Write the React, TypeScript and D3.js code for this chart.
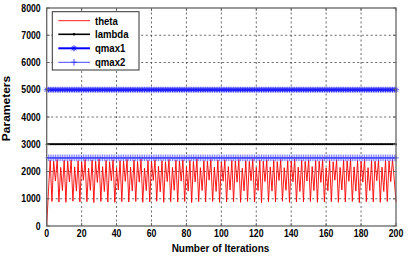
import React, { useEffect, useRef } from "react";
import * as d3 from "d3";

// theta per iteration (0..200)
const thetaValues = [
  0, 1260, 2420, 900, 2380, 1650, 2440, 880, 2150, 1300,
  2410, 870, 2390, 1620, 2430, 910, 2170, 1280, 2400, 880,
  2350, 1680, 2440, 890, 2120, 1310, 2420, 860, 2380, 1600,
  2450, 900, 2180, 1270, 2410, 880, 2360, 1660, 2430, 870,
  2140, 1320, 2400, 890, 2390, 1640, 2440, 880, 2160, 1290,
  2420, 900, 2370, 1610, 2450, 870, 2130, 1300, 2410, 880,
  2380, 1670, 2430, 910, 2190, 1260, 2400, 870, 2360, 1630,
  2440, 890, 2150, 1310, 2420, 880, 2390, 1650, 2430, 900,
  2170, 1280, 2410, 860, 2370, 1620, 2450, 890, 2140, 1300,
  2400, 880, 2380, 1680, 2440, 900, 2160, 1270, 2420, 870,
  2350, 1640, 2430, 880, 2180, 1320, 2410, 890, 2390, 1610,
  2440, 870, 2120, 1290, 2400, 900, 2370, 1660, 2450, 880,
  2150, 1300, 2420, 860, 2380, 1630, 2430, 890, 2170, 1280,
  2410, 880, 2360, 1670, 2440, 910, 2140, 1310, 2400, 870,
  2390, 1620, 2450, 880, 2160, 1270, 2420, 890, 2370, 1650,
  2430, 900, 2180, 1300, 2410, 870, 2380, 1600, 2440, 880,
  2130, 1290, 2400, 890, 2360, 1680, 2430, 870, 2150, 1320,
  2420, 880, 2390, 1640, 2450, 900, 2170, 1280, 2410, 860,
  2370, 1610, 2440, 890, 2140, 1300, 2400, 880, 2380, 1660,
  2430, 870, 2160, 1270, 2420, 900, 2390, 1630, 2440, 1700,
  880
];
const lambdaLevel = 3000;
const qmax1Level = 5000;
const qmax2Level = 2500;

const seriesNames = ["theta", "lambda", "qmax1", "qmax2"];
const xTicks = [0, 20, 40, 60, 80, 100, 120, 140, 160, 180, 200];
const yTicks = [0, 1000, 2000, 3000, 4000, 5000, 6000, 7000, 8000];

const FONT = "'Liberation Sans', Arial, sans-serif";
const SX = 0.87; // the picture is squeezed a bit sideways

const App = () => {
  const svgRef = useRef<SVGSVGElement>(null);

  useEffect(() => {
    const width = 409;
    const height = 256;
    const left = 46.7, right = 396, top = 8, bottom = 226;

    const svg = d3.select(svgRef.current);
    svg.selectAll("*").remove();
    svg.attr("width", width).attr("height", height);

    svg.append("rect").attr("width", width).attr("height", height).attr("fill", "#fff");

    const x = d3.scaleLinear().domain([0, 200]).range([left, right]);
    const y = d3.scaleLinear().domain([0, 8000]).range([bottom, top]);
    const iters = thetaValues.map((_, i) => i);

    // grid
    const grid = svg.append("g")
        .attr("stroke", "#444")
        .attr("stroke-width", 0.8)
        .attr("stroke-dasharray", "2,2.5");
    xTicks.slice(1, -1).forEach(t => {
      grid.append("line").attr("x1", x(t)).attr("x2", x(t)).attr("y1", top).attr("y2", bottom);
    });
    yTicks.slice(1, -1).forEach(t => {
      grid.append("line").attr("x1", left).attr("x2", right).attr("y1", y(t)).attr("y2", y(t));
    });

    const line = d3.line<[number, number]>().x(d => x(d[0])).y(d => y(d[1]));

    // theta
    svg.append("path")
        .attr("d", line(iters.map(i => [i, thetaValues[i]]))!)
        .attr("fill", "none")
        .attr("stroke", "#ff0000")
        .attr("stroke-width", 0.9);

    // lambda
    svg.append("path")
        .attr("d", line(iters.map(i => [i, lambdaLevel]))!)
        .attr("fill", "none")
        .attr("stroke", "#000")
        .attr("stroke-width", 1.6);
    svg.append("g").selectAll("circle").data(iters).enter().append("circle")
        .attr("cx", d => x(d)).attr("cy", y(lambdaLevel)).attr("r", 1.1).attr("fill", "#000");

    // qmax1
    const star = "M-3,0H3M0,-3V3M-2.1,-2.1L2.1,2.1M-2.1,2.1L2.1,-2.1";
    svg.append("path")
        .attr("d", line(iters.map(i => [i, qmax1Level]))!)
        .attr("fill", "none")
        .attr("stroke", "#0000ff")
        .attr("stroke-width", 2);
    svg.append("g").selectAll("path").data(iters).enter().append("path")
        .attr("transform", d => `translate(${x(d)},${y(qmax1Level)})`)
        .attr("d", star)
        .attr("stroke", "#2020ff")
        .attr("stroke-width", 0.7)
        .attr("fill", "none");

    // qmax2
    const plus = "M-3,0H3M0,-3.3V3.3";
    svg.append("path")
        .attr("d", line(iters.map(i => [i, qmax2Level]))!)
        .attr("fill", "none")
        .attr("stroke", "#3333ff")
        .attr("stroke-width", 0.9);
    svg.append("g").selectAll("path").data(iters.slice(1)).enter().append("path")
        .attr("transform", d => `translate(${x(d)},${y(qmax2Level)})`)
        .attr("d", plus)
        .attr("stroke", "#4646ff")
        .attr("stroke-width", 0.7)
        .attr("fill", "none");

    // frame and inward ticks
    const axisColor = "#666";
    svg.append("rect")
        .attr("x", left).attr("y", top)
        .attr("width", right - left).attr("height", bottom - top)
        .attr("fill", "none").attr("stroke", axisColor).attr("stroke-width", 1.3);
    const ticks = svg.append("g").attr("stroke", axisColor).attr("stroke-width", 1);
    xTicks.forEach(t => {
      ticks.append("line").attr("x1", x(t)).attr("x2", x(t)).attr("y1", bottom).attr("y2", bottom - 3);
      ticks.append("line").attr("x1", x(t)).attr("x2", x(t)).attr("y1", top).attr("y2", top + 3);
    });
    yTicks.forEach(t => {
      ticks.append("line").attr("x1", left).attr("x2", left + 3).attr("y1", y(t)).attr("y2", y(t));
      ticks.append("line").attr("x1", right).attr("x2", right - 3).attr("y1", y(t)).attr("y2", y(t));
    });

    // tick labels
    xTicks.forEach(t => {
      svg.append("g")
          .attr("transform", `translate(${x(t)},237) scale(${SX},1)`)
          .append("text")
          .attr("text-anchor", "middle")
          .style("font-family", FONT)
          .style("font-weight", "bold")
          .style("font-size", "10px")
          .attr("fill", "#000")
          .text(t);
    });
    yTicks.forEach(t => {
      svg.append("g")
          .attr("transform", `translate(40.7,${y(t) + 3.5}) scale(${SX},1)`)
          .append("text")
          .attr("text-anchor", "end")
          .style("font-family", FONT)
          .style("font-weight", "bold")
          .style("font-size", "10px")
          .attr("fill", "#000")
          .text(t);
    });

    // axis titles
    svg.append("g")
        .attr("transform", `translate(220.5,252) scale(${SX},1)`)
        .append("text")
        .attr("text-anchor", "middle")
        .style("font-family", FONT)
        .style("font-weight", "bold")
        .style("font-size", "11.5px")
        .text("Number of Iterations");
    svg.append("g")
        .attr("transform", `translate(9.5,108.5) scale(${SX},1) rotate(-90)`)
        .append("text")
        .attr("text-anchor", "middle")
        .style("font-family", FONT)
        .style("font-weight", "bold")
        .style("font-size", "12px")
        .text("Parameters");

    // legend
    const legend = svg.append("g");
    legend.append("rect")
        .attr("x", 52.3).attr("y", 11.7)
        .attr("width", 139 - 52.3).attr("height", 70 - 11.7)
        .attr("fill", "#fff").attr("stroke", "#333").attr("stroke-width", 1);
    const rowY = [20.7, 34.3, 48.3, 62.3];
    const lineStyles = [
      { color: "#ff0000", width: 0.9 },
      { color: "#000", width: 1.6 },
      { color: "#0000ff", width: 2 },
      { color: "#3333ff", width: 0.9 }
    ];
    seriesNames.forEach((name, i) => {
      const row = legend.append("g");
      row.append("line")
          .attr("x1", 58.3).attr("x2", 90).attr("y1", rowY[i]).attr("y2", rowY[i])
          .attr("stroke", lineStyles[i].color).attr("stroke-width", lineStyles[i].width);
      if (i === 1) {
        row.append("circle").attr("cx", 74).attr("cy", rowY[i]).attr("r", 1.3).attr("fill", "#000");
      } else if (i === 2) {
        row.append("path").attr("transform", `translate(74,${rowY[i]})`).attr("d", star)
            .attr("stroke", "#0000ff").attr("stroke-width", 0.9).attr("fill", "none");
      } else if (i === 3) {
        row.append("path").attr("transform", `translate(74,${rowY[i]})`).attr("d", plus)
            .attr("stroke", "#3333ff").attr("stroke-width", 0.9).attr("fill", "none");
      }
      row.append("g")
          .attr("transform", `translate(95,${rowY[i] + 3.8}) scale(${SX},1)`)
          .append("text")
          .style("font-family", FONT)
          .style("font-weight", "bold")
          .style("font-size", "11px")
          .text(name);
    });
  }, []);

  return (
    <div style={{ position: "absolute", left: 0, top: 0, width: 409, height: 256 }}>
      <svg ref={svgRef} style={{ display: "block" }}></svg>
    </div>
  );
};

export default App;
